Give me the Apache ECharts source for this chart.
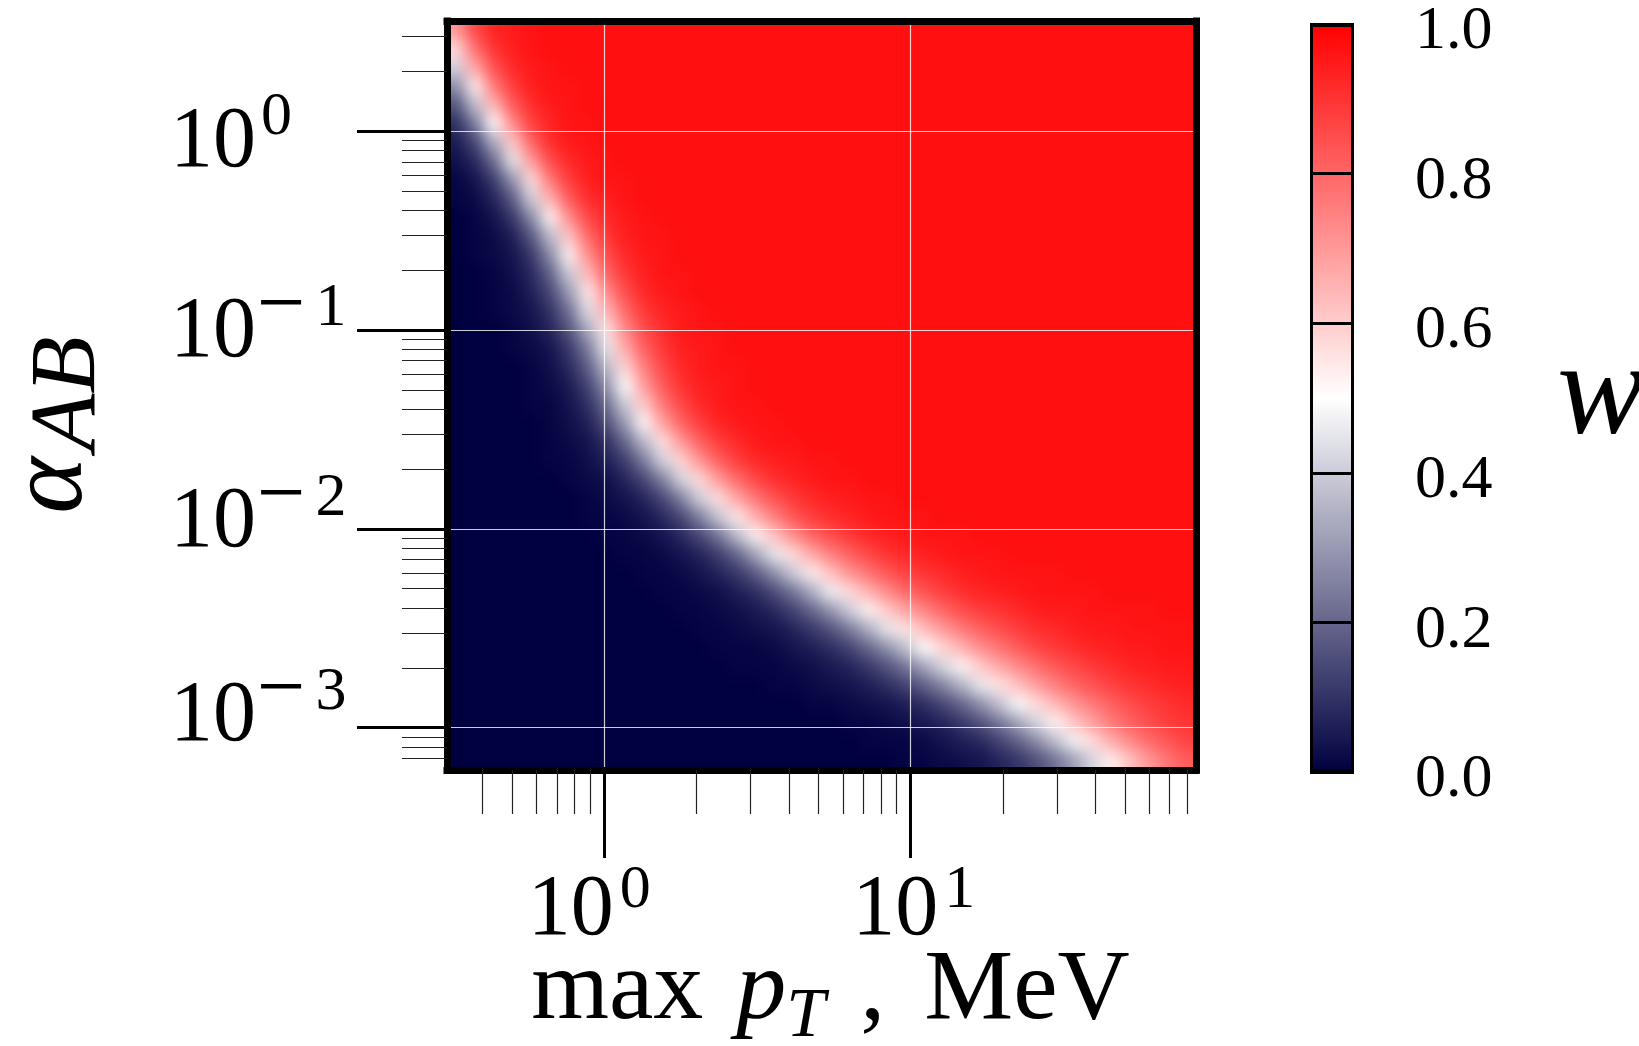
<!DOCTYPE html>
<html><head><meta charset="utf-8">
<script src="https://cdn.jsdelivr.net/npm/echarts@6/dist/echarts.min.js"></script>
<style>
html,body{margin:0;padding:0;background:#fff}
#wrap{position:relative;width:1639px;height:1046px;overflow:hidden}
#heat{position:absolute;left:447px;top:21px;width:749px;height:749px;filter:url(#smooth)}
#c{position:absolute;left:0;top:0;width:1639px;height:1046px}
</style>
</head><body>
<svg width="0" height="0" style="position:absolute">
  <filter id="smooth" x="0" y="0" width="1" height="1" color-interpolation-filters="sRGB">
    <feGaussianBlur stdDeviation="7.5"/>
    <feComponentTransfer><feFuncA type="table" tableValues="1 1"/></feComponentTransfer>
  </filter>
</svg>
<div id="wrap"><div id="heat"></div><div id="c"></div></div>
<script>
// ---- data ----
// cell centres (MeV) along x, log-spaced grid of the map
const xCats = [0.329,0.379,0.436,0.501,0.577,0.664,0.764,0.880,1.01,1.17,1.34,1.54,1.78,2.04,2.35,2.71,3.12,3.59,4.13,4.75,5.47,6.29,7.24,8.33,9.59,11.0,12.7,14.6,16.8,19.4,22.3,25.7,29.5,34.0,39.1,45.0,51.8,59.6,68.6,79.0];
// cell centres of alpha_AB, bottom to top
const yCats = [0.000691,0.000858,0.00107,0.00132,0.00164,0.00204,0.00253,0.00314,0.00390,0.00485,0.00602,0.00748,0.00928,0.0115,0.0143,0.0178,0.0221,0.0274,0.0340,0.0422,0.0525,0.0651,0.0809,0.100,0.125,0.155,0.192,0.239,0.296,0.368,0.457,0.567,0.705,0.875,1.09,1.35,1.67,2.08,2.58,3.21];
const wRows = [
[.70,.86,.93,.95,.96,.97,.97,.97,.97,.97,.97,.97,.97,.97,.97,.97,.97,.97,.97,.97,.97,.97,.97,.97,.97,.97,.97,.97,.97,.97,.97,.97,.97,.97,.97,.97,.97,.97,.97,.97],
[.57,.78,.90,.94,.96,.97,.97,.97,.97,.97,.97,.97,.97,.97,.97,.97,.97,.97,.97,.97,.97,.97,.97,.97,.97,.97,.97,.97,.97,.97,.97,.97,.97,.97,.97,.97,.97,.97,.97,.97],
[.41,.67,.84,.92,.95,.96,.97,.97,.97,.97,.97,.97,.97,.97,.97,.97,.97,.97,.97,.97,.97,.97,.97,.97,.97,.97,.97,.97,.97,.97,.97,.97,.97,.97,.97,.97,.97,.97,.97,.97],
[.27,.53,.76,.88,.94,.96,.96,.97,.97,.97,.97,.97,.97,.97,.97,.97,.97,.97,.97,.97,.97,.97,.97,.97,.97,.97,.97,.97,.97,.97,.97,.97,.97,.97,.97,.97,.97,.97,.97,.97],
[.16,.38,.64,.82,.91,.95,.96,.97,.97,.97,.97,.97,.97,.97,.97,.97,.97,.97,.97,.97,.97,.97,.97,.97,.97,.97,.97,.97,.97,.97,.97,.97,.97,.97,.97,.97,.97,.97,.97,.97],
[.09,.24,.50,.73,.87,.93,.96,.96,.97,.97,.97,.97,.97,.97,.97,.97,.97,.97,.97,.97,.97,.97,.97,.97,.97,.97,.97,.97,.97,.97,.97,.97,.97,.97,.97,.97,.97,.97,.97,.97],
[.05,.14,.34,.60,.80,.91,.95,.96,.97,.97,.97,.97,.97,.97,.97,.97,.97,.97,.97,.97,.97,.97,.97,.97,.97,.97,.97,.97,.97,.97,.97,.97,.97,.97,.97,.97,.97,.97,.97,.97],
[.03,.08,.21,.45,.69,.85,.92,.95,.96,.97,.97,.97,.97,.97,.97,.97,.97,.97,.97,.97,.97,.97,.97,.97,.97,.97,.97,.97,.97,.97,.97,.97,.97,.97,.97,.97,.97,.97,.97,.97],
[.01,.04,.12,.29,.56,.76,.88,.94,.96,.96,.97,.97,.97,.97,.97,.97,.97,.97,.97,.97,.97,.97,.97,.97,.97,.97,.97,.97,.97,.97,.97,.97,.97,.97,.97,.97,.97,.97,.97,.97],
[.01,.02,.07,.18,.41,.65,.82,.91,.94,.96,.97,.97,.97,.97,.97,.97,.97,.97,.97,.97,.97,.97,.97,.97,.97,.97,.97,.97,.97,.97,.97,.97,.97,.97,.97,.97,.97,.97,.97,.97],
[0,.01,.04,.11,.27,.52,.72,.86,.92,.95,.96,.97,.97,.97,.97,.97,.97,.97,.97,.97,.97,.97,.97,.97,.97,.97,.97,.97,.97,.97,.97,.97,.97,.97,.97,.97,.97,.97,.97,.97],
[0,.01,.02,.06,.17,.37,.61,.79,.89,.94,.96,.96,.97,.97,.97,.97,.97,.97,.97,.97,.97,.97,.97,.97,.97,.97,.97,.97,.97,.97,.97,.97,.97,.97,.97,.97,.97,.97,.97,.97],
[0,.01,.02,.04,.11,.27,.52,.72,.85,.92,.95,.96,.97,.97,.97,.97,.97,.97,.97,.97,.97,.97,.97,.97,.97,.97,.97,.97,.97,.97,.97,.97,.97,.97,.97,.97,.97,.97,.97,.97],
[0,0,.01,.03,.08,.19,.40,.63,.80,.89,.94,.96,.96,.97,.97,.97,.97,.97,.97,.97,.97,.97,.97,.97,.97,.97,.97,.97,.97,.97,.97,.97,.97,.97,.97,.97,.97,.97,.97,.97],
[0,0,.01,.02,.06,.14,.30,.54,.72,.85,.92,.95,.96,.97,.97,.97,.97,.97,.97,.97,.97,.97,.97,.97,.97,.97,.97,.97,.97,.97,.97,.97,.97,.97,.97,.97,.97,.97,.97,.97],
[0,0,.01,.02,.04,.10,.22,.43,.64,.79,.89,.93,.95,.96,.97,.97,.97,.97,.97,.97,.97,.97,.97,.97,.97,.97,.97,.97,.97,.97,.97,.97,.97,.97,.97,.97,.97,.97,.97,.97],
[0,0,0,.01,.03,.07,.16,.33,.55,.73,.85,.91,.95,.96,.96,.97,.97,.97,.97,.97,.97,.97,.97,.97,.97,.97,.97,.97,.97,.97,.97,.97,.97,.97,.97,.97,.97,.97,.97,.97],
[0,0,0,.01,.02,.04,.11,.24,.45,.66,.81,.89,.94,.95,.96,.97,.97,.97,.97,.97,.97,.97,.97,.97,.97,.97,.97,.97,.97,.97,.97,.97,.97,.97,.97,.97,.97,.97,.97,.97],
[0,0,0,0,.01,.03,.08,.18,.36,.58,.75,.86,.92,.95,.96,.96,.97,.97,.97,.97,.97,.97,.97,.97,.97,.97,.97,.97,.97,.97,.97,.97,.97,.97,.97,.97,.97,.97,.97,.97],
[0,0,0,0,.01,.02,.05,.13,.28,.50,.69,.82,.90,.94,.95,.96,.97,.97,.97,.97,.97,.97,.97,.97,.97,.97,.97,.97,.97,.97,.97,.97,.97,.97,.97,.97,.97,.97,.97,.97],
[0,0,0,0,.01,.01,.04,.09,.21,.40,.60,.76,.86,.92,.95,.96,.96,.97,.97,.97,.97,.97,.97,.97,.97,.97,.97,.97,.97,.97,.97,.97,.97,.97,.97,.97,.97,.97,.97,.97],
[0,0,0,0,0,.01,.03,.06,.15,.30,.51,.68,.80,.88,.93,.95,.96,.96,.97,.97,.97,.97,.97,.97,.97,.97,.97,.97,.97,.97,.97,.97,.97,.97,.97,.97,.97,.97,.97,.97],
[0,0,0,0,0,.01,.02,.04,.09,.20,.36,.55,.70,.81,.88,.92,.95,.96,.96,.97,.97,.97,.97,.97,.97,.97,.97,.97,.97,.97,.97,.97,.97,.97,.97,.97,.97,.97,.97,.97],
[0,0,0,0,0,.01,.01,.03,.06,.12,.24,.41,.58,.71,.81,.88,.92,.94,.95,.96,.96,.97,.97,.97,.97,.97,.97,.97,.97,.97,.97,.97,.97,.97,.97,.97,.97,.97,.97,.97],
[0,0,0,0,0,0,.01,.02,.03,.07,.14,.25,.42,.57,.70,.79,.86,.91,.93,.95,.96,.96,.97,.97,.97,.97,.97,.97,.97,.97,.97,.97,.97,.97,.97,.97,.97,.97,.97,.97],
[0,0,0,0,0,0,0,.01,.02,.04,.07,.14,.25,.41,.56,.68,.77,.84,.89,.92,.94,.95,.96,.96,.97,.97,.97,.97,.97,.97,.97,.97,.97,.97,.97,.97,.97,.97,.97,.97],
[0,0,0,0,0,0,0,.01,.01,.02,.04,.08,.14,.25,.39,.54,.66,.75,.83,.88,.91,.93,.95,.96,.96,.96,.97,.97,.97,.97,.97,.97,.97,.97,.97,.97,.97,.97,.97,.97],
[0,0,0,0,0,0,0,0,.01,.01,.02,.04,.08,.14,.23,.37,.52,.62,.72,.80,.85,.89,.92,.94,.95,.96,.96,.96,.97,.97,.97,.97,.97,.97,.97,.97,.97,.97,.97,.97],
[0,0,0,0,0,0,0,0,0,.01,.01,.02,.04,.07,.12,.20,.32,.46,.57,.67,.75,.81,.86,.90,.92,.94,.95,.96,.96,.96,.97,.97,.97,.97,.97,.97,.97,.97,.97,.97],
[0,0,0,0,0,0,0,0,0,0,.01,.01,.02,.04,.07,.11,.18,.28,.40,.53,.62,.71,.77,.83,.87,.90,.92,.94,.95,.96,.96,.96,.96,.97,.97,.97,.97,.97,.97,.97],
[0,0,0,0,0,0,0,0,0,0,0,.01,.01,.02,.03,.06,.09,.15,.23,.34,.47,.57,.65,.73,.79,.84,.88,.91,.93,.94,.95,.96,.96,.96,.96,.97,.97,.97,.97,.97],
[0,0,0,0,0,0,0,0,0,0,0,0,.01,.01,.02,.03,.05,.08,.13,.20,.29,.40,.52,.60,.68,.74,.80,.85,.88,.90,.92,.94,.95,.95,.96,.96,.96,.96,.97,.97],
[0,0,0,0,0,0,0,0,0,0,0,0,0,.01,.01,.02,.03,.04,.07,.11,.16,.24,.34,.45,.55,.63,.70,.76,.81,.85,.88,.91,.92,.94,.95,.95,.96,.96,.96,.96],
[0,0,0,0,0,0,0,0,0,0,0,0,0,0,.01,.01,.01,.02,.04,.06,.09,.13,.20,.28,.38,.50,.58,.65,.72,.77,.82,.86,.89,.91,.93,.94,.95,.95,.96,.96],
[0,0,0,0,0,0,0,0,0,0,0,0,0,0,0,.01,.01,.01,.02,.03,.05,.07,.11,.16,.23,.32,.42,.52,.60,.67,.73,.78,.83,.86,.89,.91,.93,.94,.95,.95],
[0,0,0,0,0,0,0,0,0,0,0,0,0,0,0,0,0,.01,.01,.02,.03,.04,.06,.09,.13,.19,.26,.35,.46,.55,.62,.69,.75,.80,.84,.87,.90,.91,.93,.94],
[0,0,0,0,0,0,0,0,0,0,0,0,0,0,0,0,0,0,0,.01,.01,.02,.03,.04,.06,.09,.14,.20,.28,.38,.49,.57,.64,.71,.76,.81,.85,.88,.90,.92],
[0,0,0,0,0,0,0,0,0,0,0,0,0,0,0,0,0,0,0,0,0,.01,.01,.02,.03,.05,.07,.11,.16,.23,.32,.42,.52,.61,.69,.76,.81,.85,.88,.90],
[0,0,0,0,0,0,0,0,0,0,0,0,0,0,0,0,0,0,0,0,0,0,.01,.01,.01,.02,.04,.06,.08,.13,.19,.27,.37,.48,.57,.66,.73,.79,.83,.87],
[0,0,0,0,0,0,0,0,0,0,0,0,0,0,0,0,0,0,0,0,0,0,0,0,.01,.01,.02,.03,.04,.07,.10,.15,.22,.31,.42,.53,.62,.70,.77,.82]
];
// axis ranges and ticks
const xRange = [0.3066, 85.3];
const yRange = [0.000613, 3.573];
const xMajorTicks = [1, 10];
const xTickLabels = ['10^0', '10^1'];
const xMinorTicks = [0.4,0.5,0.6,0.7,0.8,0.9,2,3,4,5,6,7,8,9,20,30,40,50,60,70,80];
const yMajorTicks = [0.001, 0.01, 0.1, 1];
const yTickLabels = ['10^\u22123', '10^\u22122', '10^\u22121', '10^0'];
const yMinorTicks = [0.0007,0.0008,0.0009,0.002,0.003,0.004,0.005,0.006,0.007,0.008,0.009,0.02,0.03,0.04,0.05,0.06,0.07,0.08,0.09,0.2,0.3,0.4,0.5,0.6,0.7,0.8,0.9,2,3];
const cbarTicks = [0, 0.2, 0.4, 0.6, 0.8, 1.0];
const cbarLabels = ['0.0', '0.2', '0.4', '0.6', '0.8', '1.0'];
const cbarSpan = [1];

// ---- build ----
const FF = 'Liberation Serif, DejaVu Serif, serif';
const NAVY = '#000040', RED = '#ff0000';
const heat = [];
wRows.forEach((row, r) => {
  const k = yCats.length - 1 - r;
  row.forEach((v, i) => heat.push([i, k, v]));
});
const lg = Math.log10;
const findIdx = (arr, val) => arr.findIndex(t => Math.abs(lg(t) - val) < 1e-6);

// map layer (smoothed by the page's SVG filter)
const heatChart = echarts.init(document.getElementById('heat'));
heatChart.setOption({
  animation: false,
  grid: { left: 0, top: 0, right: 0, bottom: 0, outerBoundsMode: 'none', containLabel: false },
  visualMap: { type: 'continuous', show: false, min: 0, max: 1, seriesIndex: 0,
    inRange: { color: [NAVY, '#ffffff', RED] } },
  xAxis: { type: 'category', data: xCats.map(String), show: false },
  yAxis: { type: 'category', data: yCats.map(String), show: false },
  series: [{ type: 'heatmap', data: heat, progressive: 0, silent: true,
    itemStyle: { borderWidth: 0 }, emphasis: { disabled: true } }]
});

// label typography (style only)
const yLabelDy = [-10.5, -5.5, 3.5, 12];
const yRich = {
  s: { fontSize: 62, fontFamily: FF, color: '#000', height: 30, lineHeight: 10, verticalAlign: 'top', padding: [0, 0, 0, 5] },
  m: { fontSize: 86, fontFamily: FF, color: '#000', height: 30, lineHeight: 10, verticalAlign: 'top', padding: [0, 0, 0, 1] },
  d: { fontSize: 62, fontFamily: FF, color: '#000', height: 30, lineHeight: 10, verticalAlign: 'top', padding: [0, 0, 0, 10] }
};
yLabelDy.forEach((dy, j) => {
  yRich['b' + j] = { fontSize: 86, fontFamily: FF, color: '#000', height: 80, lineHeight: 80 - 2 * dy, verticalAlign: 'top' };
});
const xLabelDx = [-15, 3];
const xRich = {};
xLabelDx.forEach((dx, j) => {
  xRich['xb' + j] = { fontSize: 86, fontFamily: FF, color: '#000', height: 60, lineHeight: 80, verticalAlign: 'bottom', padding: [0, 0, 0, Math.max(0, 2 * dx)] };
  xRich['xs' + j] = { fontSize: 62, fontFamily: FF, color: '#000', height: 60, lineHeight: 80, verticalAlign: 'top', padding: [0, Math.max(0, -2 * dx), 0, 6] };
});
const nameRich = {
  r: { fontSize: 100, fontFamily: FF, color: '#000', height: 100, lineHeight: 100, verticalAlign: 'top', padding: [0, 0, 0, 18] },
  i: { fontSize: 100, fontFamily: FF, fontStyle: 'italic', color: '#000', height: 100, lineHeight: 100, verticalAlign: 'top', padding: [0, 0, 0, 33] },
  t: { fontSize: 70, fontFamily: FF, fontStyle: 'italic', color: '#000', height: 150.8, lineHeight: 100, verticalAlign: 'top' },
  c: { fontSize: 100, fontFamily: FF, color: '#000', height: 100, lineHeight: 100, verticalAlign: 'top', padding: [0, 0, 0, 35] },
  m: { fontSize: 100, fontFamily: FF, color: '#000', height: 100, lineHeight: 100, verticalAlign: 'top', padding: [0, 0, 0, 39] }
};

const hidden = { show: false };
const frameLine = { show: true, onZero: false, lineStyle: { color: '#000', width: 7, cap: 'square' } };

const option = {
  animation: false,
  grid: [
    { left: 447, top: 21, width: 749, height: 749, outerBoundsMode: 'none', containLabel: false },
    { left: 1310, top: 24, width: 44, height: 748, outerBoundsMode: 'none', containLabel: false }
  ],
  xAxis: [
    { type: 'value', gridIndex: 0, position: 'bottom', z: 5,
      min: lg(xRange[0]), max: lg(xRange[1]),
      axisLine: frameLine,
      axisTick: { show: true, length: 88, lineStyle: { color: '#000', width: 3 }, customValues: xMajorTicks.map(lg) },
      axisLabel: { show: true, margin: 91, customValues: xMajorTicks.map(lg),
        formatter: v => { const j = findIdx(xMajorTicks, v); const p = xTickLabels[j].split('^'); return '{xb' + j + '|' + p[0] + '}{xs' + j + '|' + p[1] + '}'; },
        rich: xRich },
      splitLine: { show: true, lineStyle: { color: 'rgba(255,255,255,0.8)', width: 1.2 } },
      name: '{r|max}{i|p}{t|T}{c|,}{m|MeV}', nameLocation: 'middle', nameGap: 172, nameMoveOverlap: false,
      nameTextStyle: { rich: nameRich, color: '#000' }
    },
    { type: 'value', gridIndex: 0, position: 'bottom', z: 5,
      min: lg(xRange[0]), max: lg(xRange[1]),
      axisLine: { show: false, onZero: false },
      axisTick: { show: true, length: 44, lineStyle: { color: '#222', width: 1.2 }, customValues: xMinorTicks.map(lg) },
      axisLabel: { show: false }, splitLine: { show: false }
    },
    { type: 'value', gridIndex: 0, position: 'top', z: 5,
      min: lg(xRange[0]), max: lg(xRange[1]),
      axisLine: frameLine, axisTick: hidden, axisLabel: hidden, splitLine: hidden },
    { type: 'category', gridIndex: 1, data: ['w'], show: false }
  ],
  yAxis: [
    { type: 'value', gridIndex: 0, position: 'left', z: 5,
      min: lg(yRange[0]), max: lg(yRange[1]),
      axisLine: frameLine,
      axisTick: { show: true, length: 90, lineStyle: { color: '#000', width: 3 }, customValues: yMajorTicks.map(lg) },
      axisLabel: { show: true, margin: 277, align: 'left', customValues: yMajorTicks.map(lg),
        formatter: v => {
          const j = findIdx(yMajorTicks, v); const p = yTickLabels[j].split('^');
          if (p[1].charAt(0) === '\u2212') return '{b' + j + '|' + p[0] + '}{m|\u2212}{d|' + p[1].slice(1) + '}';
          return '{b' + j + '|' + p[0] + '}{s|' + p[1] + '}';
        },
        rich: yRich },
      splitLine: { show: true, lineStyle: { color: 'rgba(255,255,255,0.8)', width: 1.2 } }
    },
    { type: 'value', gridIndex: 0, position: 'left', z: 5,
      min: lg(yRange[0]), max: lg(yRange[1]),
      axisLine: { show: false, onZero: false },
      axisTick: { show: true, length: 45, lineStyle: { color: '#222', width: 1.2 }, customValues: yMinorTicks.map(lg) },
      axisLabel: { show: false }, splitLine: { show: false }
    },
    { type: 'value', gridIndex: 0, position: 'right', z: 5,
      min: lg(yRange[0]), max: lg(yRange[1]),
      axisLine: frameLine, axisTick: hidden, axisLabel: hidden, splitLine: hidden },
    { type: 'value', gridIndex: 1, position: 'right', z: 5,
      min: cbarTicks[0], max: cbarTicks[cbarTicks.length - 1], interval: 0.2,
      axisLine: { show: false, onZero: false }, axisTick: { show: false },
      axisLabel: { show: true, margin: 61,
        formatter: v => { const j = cbarTicks.findIndex(t => Math.abs(t - v) < 1e-6); return j >= 0 ? '{v|' + cbarLabels[j] + '}' : ''; },
        rich: { v: { fontSize: 62, fontFamily: FF, color: '#000', padding: [16, 0, 0, 0] } } },
      splitLine: { show: true, lineStyle: { color: '#000', width: 3 } }
    }
  ],
  graphic: [
    { type: 'text', x: 2.5, y: 425, rotation: Math.PI / 2, silent: true,
      style: { text: '{a|\u03b1}{s|AB}', align: 'center', verticalAlign: 'top', textAlign: 'center', textVerticalAlign: 'top', fill: '#000',
        rich: {
          a: { fontSize: 108, fontFamily: FF, fontStyle: 'italic', fill: '#000', height: 100, lineHeight: 107, verticalAlign: 'top' },
          s: { fontSize: 94, fontFamily: FF, fontStyle: 'italic', fill: '#000', height: 80, lineHeight: 80, verticalAlign: 'bottom', padding: [0, 0, 0, 6] }
        } } },
    { type: 'text', x: 1557, y: 398, silent: true,
      style: { text: 'w', fontSize: 133, fontFamily: FF, fontStyle: 'italic', fill: '#000', align: 'left', verticalAlign: 'middle', textAlign: 'left', textVerticalAlign: 'middle' } }
  ],
  series: [
    { type: 'bar', xAxisIndex: 3, yAxisIndex: 3, data: cbarSpan, barWidth: '100%', silent: true,
      itemStyle: {
        color: new echarts.graphic.LinearGradient(0, 1, 0, 0, [
          { offset: 0, color: NAVY }, { offset: 0.5, color: '#ffffff' }, { offset: 1, color: RED }]),
        borderColor: '#000', borderWidth: 3
      } }
  ]
};
const chart = echarts.init(document.getElementById('c'));
chart.setOption(option);
</script>
</body></html>
